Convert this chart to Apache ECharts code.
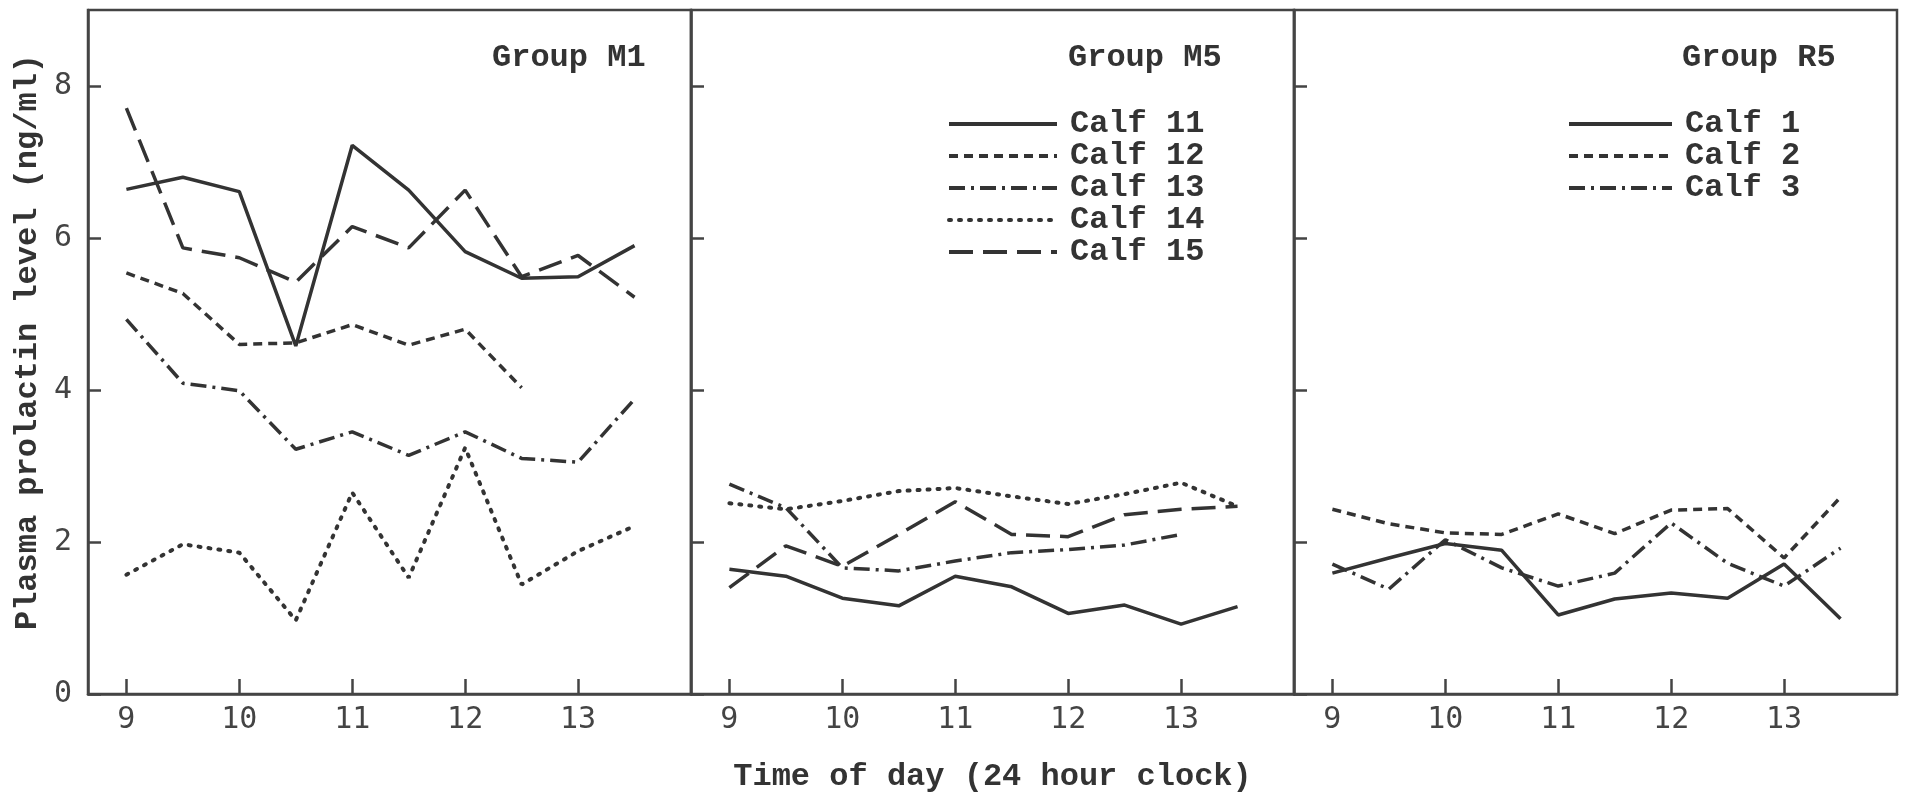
<!DOCTYPE html>
<html>
<head>
<meta charset="utf-8">
<title>Plasma prolactin level</title>
<script src="https://cdn.jsdelivr.net/npm/echarts@6/dist/echarts.min.js"></script>
<style>
    html, body {margin: 0; padding: 0; background: #fff;}
    #main {width: 1906px; height: 796px;}
</style>
</head>
<body>
<div id="main"></div>
<script>
// sampling times (24 hour clock), every half hour
var times = [9, 9.5, 10, 10.5, 11, 11.5, 12, 12.5, 13, 13.5];
var hourTicks = [9, 10, 11, 12, 13];
var levelTicks = [0, 2, 4, 6, 8];

// Group M1 (no legend in the figure, same line styles as M5)
var m1Solid = [6.64, 6.8, 6.61, 4.58, 7.22, 6.63, 5.82, 5.47, 5.49, 5.9];
var m1ShortDash = [5.54, 5.27, 4.6, 4.62, 4.86, 4.59, 4.8, 4.03];
var m1DashDot = [4.93, 4.09, 3.99, 3.22, 3.45, 3.14, 3.45, 3.1, 3.05, 3.88];
var m1Dotted = [1.57, 1.97, 1.86, 0.97, 2.65, 1.53, 3.24, 1.44, 1.88, 2.21];
var m1LongDash = [7.71, 5.87, 5.74, 5.42, 6.15, 5.87, 6.63, 5.49, 5.77, 5.22];

// Group M5
var m5Calf11 = [1.64, 1.55, 1.26, 1.16, 1.55, 1.41, 1.06, 1.17, 0.92, 1.15];
var m5Calf12 = [];
var m5Calf13 = [2.76, 2.45, 1.66, 1.62, 1.75, 1.86, 1.9, 1.96, 2.1];
var m5Calf14 = [2.51, 2.43, 2.54, 2.67, 2.71, 2.6, 2.5, 2.63, 2.78, 2.47];
var m5Calf15 = [1.4, 1.95, 1.68, 2.1, 2.53, 2.1, 2.07, 2.36, 2.43, 2.47];

// Group R5
var r5Calf1 = [1.59, 1.79, 1.98, 1.89, 1.04, 1.25, 1.33, 1.26, 1.71, 0.99];
var r5Calf2 = [2.43, 2.24, 2.12, 2.1, 2.37, 2.11, 2.42, 2.44, 1.79, 2.59];
var r5Calf3 = [1.71, 1.38, 2.03, 1.66, 1.42, 1.59, 2.25, 1.72, 1.42, 1.92];

var ink = '#333';
var typeFont = "'Liberation Mono', 'DejaVu Sans Mono', monospace";
var numFont = "'DejaVu Sans Mono', 'Liberation Mono', monospace";

var styles = {
    solid: {type: 'solid', width: 3.5},
    shortDash: {type: [9, 6], width: 3.5},
    dashDot: {type: [16, 6, 3, 6], width: 3.5},
    dotted: {type: [2, 8], width: 4, cap: 'round'},
    longDash: {type: [24, 10], width: 3.5}
};

var pairs = function (vals) {
    return vals.map(function (v, i) { return [times[i], v]; });
};

var makeSeries = function (name, panel, vals, style) {
    var ls = Object.assign({}, styles[style], {color: ink});
    return {
        name: name,
        type: 'line',
        xAxisIndex: panel,
        yAxisIndex: panel,
        data: pairs(vals),
        symbol: 'none',
        lineStyle: ls,
        itemStyle: {color: ink},
        animation: false,
        silent: true
    };
};

var grids = [88, 691, 1294].map(function (left) {
    return {left: left, width: 603, top: 10, height: 684, outerBoundsMode: 'none',
        show: true, borderColor: '#444', borderWidth: 2.5, backgroundColor: 'transparent'};
});

var xAxes = [0, 1, 2].map(function (i) {
    return {
        type: 'value', gridIndex: i, min: 8.66, max: 14,
        splitLine: {show: false},
        axisLine: {lineStyle: {color: '#444', width: 2.5}},
        axisTick: {inside: true, length: 15, customValues: hourTicks, lineStyle: {color: '#444', width: 2.5}},
        axisLabel: {customValues: hourTicks, margin: 11, fontFamily: numFont, fontSize: 30, color: '#444'},
        name: i === 1 ? 'Time of day (24 hour clock)' : '',
        nameLocation: 'middle',
        nameGap: 67,
        nameTextStyle: {fontFamily: typeFont, fontWeight: 'bold', fontSize: 32, color: ink}
    };
});

var yAxes = [0, 1, 2].map(function (i) {
    return {
        type: 'value', gridIndex: i, min: 0, max: 9,
        splitLine: {show: false},
        axisLine: {lineStyle: {color: '#444', width: 2.5}},
        axisTick: {inside: true, length: 13, customValues: levelTicks, lineStyle: {color: '#444', width: 2.5}},
        axisLabel: {show: i === 0, customValues: levelTicks, margin: 16, fontFamily: numFont, fontSize: 30, color: '#444'},
        name: i === 0 ? 'Plasma prolactin level (ng/ml)' : '',
        nameLocation: 'middle',
        nameRotate: 90,
        nameGap: 44,
        nameTextStyle: {fontFamily: typeFont, fontWeight: 'bold', fontSize: 32, color: ink, padding: [0, 0, 0, 20]}
    };
});

var groupTitle = function (text, left) {
    return {text: text, left: left, top: 42, padding: 0,
        textStyle: {fontFamily: typeFont, fontWeight: 'bold', fontSize: 32, color: ink}};
};

var legendBox = function (names, left, width) {
    return {
        data: names, left: left, top: 108, orient: 'vertical',
        itemWidth: width, itemHeight: 20, itemGap: 0, padding: 0,
        selectedMode: false,
        // hide the symbol ECharts puts in the middle of a line legend icon
        itemStyle: {color: 'rgba(0,0,0,0)', borderWidth: 0, opacity: 0},
        lineStyle: {width: 4, color: ink},
        textStyle: {fontFamily: typeFont, fontWeight: 'bold', fontSize: 32, color: ink, padding: [0, 0, 0, 8]}
    };
};

var option = {
    backgroundColor: '#fff',
    animation: false,
    title: [groupTitle('Group M1', 492), groupTitle('Group M5', 1068), groupTitle('Group R5', 1682)],
    legend: [
        legendBox(['Calf 11', 'Calf 12', 'Calf 13', 'Calf 14', 'Calf 15'], 947, 108),
        legendBox(['Calf 1', 'Calf 2', 'Calf 3'], 1567, 103)
    ],
    grid: grids,
    xAxis: xAxes,
    yAxis: yAxes,
    series: [
        makeSeries('M1 solid', 0, m1Solid, 'solid'),
        makeSeries('M1 short dash', 0, m1ShortDash, 'shortDash'),
        makeSeries('M1 dash-dot', 0, m1DashDot, 'dashDot'),
        makeSeries('M1 dotted', 0, m1Dotted, 'dotted'),
        makeSeries('M1 long dash', 0, m1LongDash, 'longDash'),

        makeSeries('Calf 11', 1, m5Calf11, 'solid'),
        makeSeries('Calf 12', 1, m5Calf12, 'shortDash'),
        makeSeries('Calf 13', 1, m5Calf13, 'dashDot'),
        makeSeries('Calf 14', 1, m5Calf14, 'dotted'),
        makeSeries('Calf 15', 1, m5Calf15, 'longDash'),

        makeSeries('Calf 1', 2, r5Calf1, 'solid'),
        makeSeries('Calf 2', 2, r5Calf2, 'shortDash'),
        makeSeries('Calf 3', 2, r5Calf3, 'dashDot')
    ]
};

var myChart = echarts.init(document.getElementById('main'));
myChart.setOption(option);
</script>
</body>
</html>
